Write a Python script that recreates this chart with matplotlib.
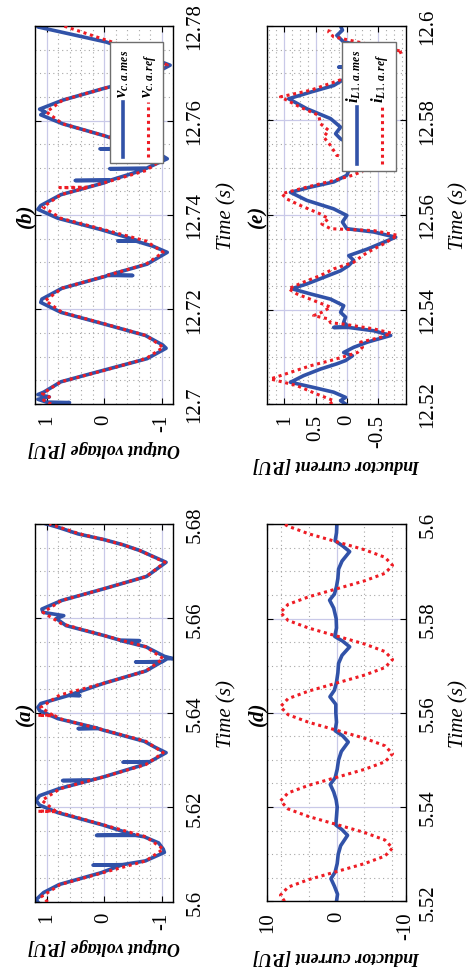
import matplotlib
matplotlib.use("Agg")
import matplotlib.pyplot as plt
from matplotlib.ticker import FixedLocator, MultipleLocator, FuncFormatter
from matplotlib.patches import Rectangle

plt.rcParams['font.family'] = ['Liberation Serif', 'DejaVu Serif']
plt.rcParams['axes.unicode_minus'] = False
plt.rcParams['mathtext.fontset'] = 'custom'
plt.rcParams['mathtext.rm'] = 'Liberation Serif'
plt.rcParams['mathtext.it'] = 'Liberation Serif:italic:bold'
plt.rcParams['mathtext.bf'] = 'Liberation Serif:bold'

# ---------------- data ----------------
# panel (a): output voltage, t = 5.60 .. 5.68 s
t_a_ref = [5.6000, 5.6012, 5.6037, 5.6062, 5.6087, 5.6112, 5.6138, 5.6163, 5.6189,
           5.6191, 5.6192, 5.6193, 5.6215, 5.6240, 5.6265, 5.6291, 5.6316, 5.6340,
           5.6364, 5.6388, 5.6394, 5.6395, 5.6396, 5.6412, 5.6438, 5.6463, 5.6489,
           5.6515, 5.6540, 5.6564, 5.6589, 5.6613, 5.6638, 5.6663, 5.6689, 5.6719,
           5.6744, 5.6756, 5.6767, 5.6779, 5.6793, 5.6800]
v_a_ref = [0.98, 1.08, 0.76, 0.02, -0.73, -1.03, -0.73, 0.00, 0.76,
           0.80, 1.15, 0.85, 1.08, 0.76, 0.00, -0.73, -1.03, -0.73,
           0.00, 0.77, 0.85, 1.15, 0.90, 1.10, 0.77, 0.00, -0.73,
           -1.03, -0.73, 0.00, 0.74, 1.06, 0.74, 0.00, -0.74, -1.06,
           -0.62, -0.33, 0.00, 0.42, 0.77, 0.95]
t_a_mes = [5.6000, 5.6005, 5.6012, 5.6020, 5.6037, 5.6062, 5.6078, 5.6078, 5.6079,
           5.6087, 5.6105, 5.6112, 5.6125, 5.6138, 5.6141, 5.6141, 5.6142, 5.6163,
           5.6189, 5.6205, 5.6215, 5.6225, 5.6240, 5.6257, 5.6257, 5.6258, 5.6265,
           5.6291, 5.6296, 5.6296, 5.6297, 5.6316, 5.6328, 5.6340, 5.6364, 5.6367,
           5.6367, 5.6368, 5.6388, 5.6405, 5.6412, 5.6420, 5.6437, 5.6437, 5.6438,
           5.6463, 5.6489, 5.6508, 5.6508, 5.6509, 5.6515, 5.6515, 5.6520, 5.6540,
           5.6553, 5.6553, 5.6554, 5.6564, 5.6585, 5.6600, 5.6606, 5.6613, 5.6620,
           5.6638, 5.6663, 5.6689, 5.6719, 5.6744, 5.6756, 5.6767, 5.6779, 5.6793,
           5.6800]
v_a_mes = [1.15, 1.18, 1.12, 1.05, 0.78, 0.05, -0.30, 0.19, -0.32,
           -0.72, -1.05, -1.03, -0.95, -0.70, -0.55, 0.13, -0.52, 0.02,
           0.80, 1.12, 1.18, 1.12, 0.78, 0.25, 0.72, 0.22, 0.00,
           -0.70, -0.78, -0.33, -0.80, -1.08, -0.88, -0.70, 0.02, 0.10,
           0.45, 0.12, 0.80, 1.12, 1.15, 1.10, 0.62, 0.42, 0.60,
           0.00, -0.73, -1.00, -0.55, -1.02, -1.10, -1.20, -1.05, -0.73,
           -0.30, -0.62, -0.28, 0.00, 0.66, 0.83, 0.70, 1.06, 1.08,
           0.74, 0.00, -0.74, -1.08, -0.62, -0.33, 0.00, 0.45, 0.80,
           1.00]

# panel (b): output voltage, t = 12.70 .. 12.78 s
t_b_ref = [12.7000, 12.7008, 12.7015, 12.7022, 12.7047, 12.7071, 12.7096, 12.7120,
           12.7145, 12.7170, 12.7194, 12.7219, 12.7245, 12.7270, 12.7296, 12.7321,
           12.7345, 12.7369, 12.7393, 12.7417, 12.7443, 12.7457, 12.7458, 12.7459,
           12.7468, 12.7494, 12.7519, 12.7544, 12.7568, 12.7593, 12.7618, 12.7643,
           12.7668, 12.7692, 12.7717, 12.7745, 12.7770, 12.7800]
v_b_ref = [0.92, 1.05, 0.95, 1.07, 0.75, 0.00, -0.73, -1.03,
           -0.73, 0.00, 0.73, 1.02, 0.73, 0.00, -0.73, -1.03,
           -0.73, 0.00, 0.75, 1.06, 0.75, 0.32, 0.77, 0.28,
           0.00, -0.73, -1.03, -0.73, 0.00, 0.72, 1.00, 0.72,
           0.00, -0.76, -1.10, -0.70, -0.04, 0.70]
t_b_mes = [12.7000, 12.7003, 12.7004, 12.7010, 12.7015, 12.7020, 12.7025, 12.7047,
           12.7071, 12.7096, 12.7118, 12.7125, 12.7145, 12.7170, 12.7194, 12.7215,
           12.7222, 12.7245, 12.7270, 12.7272, 12.7272, 12.7273, 12.7296, 12.7321,
           12.7334, 12.7345, 12.7345, 12.7346, 12.7369, 12.7393, 12.7412, 12.7420,
           12.7443, 12.7468, 12.7473, 12.7473, 12.7474, 12.7494, 12.7498, 12.7498,
           12.7499, 12.7519, 12.7530, 12.7540, 12.7540, 12.7541, 12.7568, 12.7593,
           12.7612, 12.7618, 12.7624, 12.7643, 12.7668, 12.7692, 12.7717, 12.7740,
           12.7766, 12.7790, 12.7798, 12.7800]
v_b_mes = [0.85, 0.60, 1.00, 1.15, 0.95, 1.15, 1.05, 0.75,
           0.02, -0.75, -1.08, -1.02, -0.72, 0.02, 0.75, 1.10,
           1.08, 0.73, -0.02, -0.06, -0.50, -0.08, -0.75, -1.10,
           -0.85, -0.55, -0.24, -0.58, 0.05, 0.80, 1.15, 1.10,
           0.75, 0.00, -0.10, 0.50, -0.12, -0.65, -0.72, -0.10,
           -0.74, -1.10, -0.95, -0.65, 0.07, -0.67, 0.00, 0.72,
           1.10, 1.02, 1.12, 0.72, 0.00, -0.76, -1.15, -0.65,
           -0.04, 0.85, 1.15, 1.10]

# panel (d): inductor current, t = 5.52 .. 5.60 s
t_d_ref = [5.5200, 5.5213, 5.5230, 5.5246, 5.5263, 5.5280, 5.5296, 5.5313, 5.5330,
           5.5346, 5.5363, 5.5380, 5.5396, 5.5413, 5.5430, 5.5446, 5.5463, 5.5480,
           5.5496, 5.5513, 5.5530, 5.5546, 5.5563, 5.5580, 5.5596, 5.5613, 5.5630,
           5.5646, 5.5663, 5.5680, 5.5696, 5.5713, 5.5730, 5.5746, 5.5763, 5.5780,
           5.5796, 5.5813, 5.5830, 5.5846, 5.5863, 5.5880, 5.5896, 5.5913, 5.5930,
           5.5946, 5.5963, 5.5980, 5.5996, 5.6000]
v_d_ref = [7.5, 8.1, 7.0, 4.05, 0.0, -4.05, -7.0, -8.1, -7.0,
           -4.05, 0.0, 4.05, 7.0, 8.1, 7.0, 4.05, 0.0, -4.05,
           -7.0, -8.1, -7.0, -4.05, 0.0, 4.05, 7.0, 8.1, 7.0,
           4.05, 0.0, -4.05, -7.0, -8.1, -7.0, -4.05, 0.0, 4.05,
           7.0, 8.1, 7.0, 4.05, 0.0, -4.05, -7.0, -8.1, -7.0,
           -4.05, 0.0, 4.05, 7.0, 7.5]
t_d_mes = [5.5200, 5.5215, 5.5232, 5.5248, 5.5262, 5.5280, 5.5300, 5.5318, 5.5340,
           5.5352, 5.5362, 5.5380, 5.5400, 5.5415, 5.5432, 5.5448, 5.5462, 5.5480,
           5.5500, 5.5518, 5.5538, 5.5551, 5.5562, 5.5580, 5.5600, 5.5618, 5.5634,
           5.5648, 5.5665, 5.5685, 5.5705, 5.5722, 5.5740, 5.5752, 5.5762, 5.5780,
           5.5800, 5.5822, 5.5839, 5.5852, 5.5868, 5.5885, 5.5905, 5.5922, 5.5942,
           5.5954, 5.5965, 5.5982, 5.6000]
v_d_mes = [0.0, -0.15, 0.3, 0.8, 0.2, -0.1, -0.25, -0.6, -1.6,
           -0.8, 0.1, 0.0, -0.1, 0.05, 0.4, 0.9, 0.2, -0.1,
           -0.3, -0.7, -1.7, -0.9, 0.2, 0.0, 0.1, 0.1, 0.95,
           0.3, 0.0, -0.2, -0.3, -0.8, -1.9, -0.9, 0.25, 0.0,
           0.05, 0.4, 1.0, 0.3, 0.0, -0.2, -0.3, -0.8, -1.9,
           -0.9, 0.2, 0.0, -0.05]

# panel (e): inductor current, t = 12.52 .. 12.60 s
t_e_ref = [12.5200, 12.5207, 12.5221, 12.5239, 12.5253, 12.5267, 12.5281, 12.5292,
           12.5302, 12.5309, 12.5320, 12.5331, 12.5341, 12.5350, 12.5359, 12.5369,
           12.5372, 12.5380, 12.5387, 12.5394, 12.5405, 12.5419, 12.5433, 12.5444,
           12.5458, 12.5472, 12.5486, 12.5500, 12.5511, 12.5521, 12.5539, 12.5557,
           12.5567, 12.5571, 12.5581, 12.5592, 12.5602, 12.5620, 12.5634, 12.5645,
           12.5659, 12.5673, 12.5684, 12.5691, 12.5719, 12.5726, 12.5747, 12.5765,
           12.5779, 12.5793, 12.5811, 12.5828, 12.5850, 12.5864, 12.5881, 12.5896,
           12.5924, 12.5946, 12.5959, 12.5977, 12.5987, 12.6000]
v_e_ref = [0.27, 0.21, 0.48, 0.80, 1.22, 0.90, 0.58, 0.26,
           0.00, -0.17, -0.25, -0.22, -0.54, -0.71, -0.43, 0.05,
           0.26, 0.29, 0.53, 0.40, 0.26, 0.53, 0.80, 0.93,
           0.69, 0.42, 0.21, -0.11, -0.22, -0.33, -0.59, -0.81,
           -0.43, 0.26, 0.40, 0.29, 0.42, 0.74, 0.96, 1.04,
           0.64, 0.21, -0.09, -0.22, -0.62, 0.16, 0.26, 0.37,
           0.29, 0.42, 0.45, 0.74, 1.06, 0.58, 0.21, -0.11,
           -0.49, -0.89, -0.43, 0.21, 0.29, 0.26]
t_e_mes = [12.5200, 12.5207, 12.5214, 12.5225, 12.5235, 12.5246, 12.5260, 12.5274,
           12.5285, 12.5292, 12.5302, 12.5309, 12.5320, 12.5331, 12.5345, 12.5355,
           12.5362, 12.5362, 12.5363, 12.5373, 12.5384, 12.5394, 12.5408, 12.5422,
           12.5433, 12.5444, 12.5454, 12.5468, 12.5482, 12.5493, 12.5504, 12.5514,
           12.5528, 12.5553, 12.5564, 12.5571, 12.5585, 12.5599, 12.5613, 12.5631,
           12.5648, 12.5659, 12.5670, 12.5684, 12.5700, 12.5719, 12.5740, 12.5761,
           12.5772, 12.5786, 12.5804, 12.5825, 12.5846, 12.5860, 12.5874, 12.5895,
           12.5913, 12.5913, 12.5914, 12.5930, 12.5948, 12.5966, 12.5980, 12.5991,
           12.6000]
v_e_mes = [0.02, 0.10, 0.02, 0.21, 0.53, 0.90, 0.69, 0.42,
           0.16, 0.02, -0.09, 0.05, -0.11, -0.33, -0.70, -0.43,
           -0.03, 0.21, -0.03, 0.05, 0.02, 0.10, 0.05, 0.26,
           0.58, 0.88, 0.64, 0.37, 0.10, -0.03, -0.11, -0.03,
           -0.33, -0.78, -0.43, 0.00, 0.07, 0.00, 0.21, 0.64,
           0.90, 0.58, 0.21, 0.00, -0.05, -0.65, -0.22, 0.10,
           0.18, 0.10, 0.26, 0.64, 0.93, 0.58, 0.21, -0.05,
           -0.20, 0.13, -0.22, -0.45, -0.75, 0.05, 0.16, 0.07,
           0.10]

# ticks / labels
a_time_ticks = [5.60, 5.62, 5.64, 5.66, 5.68]
b_time_ticks = [12.70, 12.72, 12.74, 12.76, 12.78]
d_time_ticks = [5.52, 5.54, 5.56, 5.58, 5.60]
e_time_ticks = [12.52, 12.54, 12.56, 12.58, 12.60]
volt_ticks = [1, 0, -1]
cur_d_ticks = [10, 0, -10]
cur_e_ticks = [1, 0.5, 0, -0.5]
panel_titles = ['(a)', '(b)', '(d)', '(e)']
volt_label = 'Output voltage [P.U]'
cur_label = 'Inductor current [P.U]'
time_label = 'Time (s)'
legend_b = [r'$v_{c.a.mes}$', r'$v_{c.a.ref}$']
legend_e = [r'$i_{L1.a.mes}$', r'$i_{L1.a.ref}$']

BLUE = '#3152a8'
RED = '#ee1c24'
W, H = 468, 978

fig = plt.figure(figsize=(W / 100, H / 100), dpi=100)


def px_axes(x0, y0, x1, y1):
    return fig.add_axes([x0 / W, 1 - y1 / H, (x1 - x0) / W, (y1 - y0) / H])


def fmt(v, pos):
    s = '%g' % round(v, 4)
    return '0' if s == '-0' else s


def style(ax, tlim, tticks, vlim, vticks, vminor, vlabel, title):
    ax.set_ylim(*tlim)
    ax.set_xlim(*vlim)
    ax.yaxis.set_major_locator(FixedLocator(tticks))
    ax.yaxis.set_minor_locator(MultipleLocator(0.005))
    ax.xaxis.set_major_locator(FixedLocator(vticks))
    ax.xaxis.set_minor_locator(MultipleLocator(vminor))
    ax.xaxis.set_major_formatter(FuncFormatter(fmt))
    ax.yaxis.set_major_formatter(FuncFormatter(fmt))
    ax.yaxis.tick_right()
    ax.yaxis.set_label_position('right')
    ax.tick_params(which='major', direction='in', length=4, width=0.8,
                   top=True, bottom=True, left=True, right=True, labelsize=15)
    ax.tick_params(which='minor', length=0)
    ax.tick_params(axis='x', labelrotation=90, pad=7)
    ax.tick_params(axis='y', labelrotation=90, pad=9)
    for lab in ax.get_yticklabels():
        lab.set_va('center')
    ax.grid(which='major', color='#c9c9e8', lw=0.9, ls='-')
    ax.grid(which='minor', color='#a6a6a6', lw=0.8, ls=(0, (1, 3)))
    ax.set_axisbelow(True)
    for sp in ax.spines.values():
        sp.set_linewidth(1.0)
        sp.set_color('black')
    ax.set_ylabel(time_label, fontsize=15, fontstyle='italic', labelpad=9)
    ax.set_xlabel(vlabel, fontsize=13, fontweight='bold', fontstyle='italic',
                  rotation=180, labelpad=6)
    ax.text(-0.072, 0.5, title, transform=ax.transAxes, rotation=90,
            ha='center', va='center', fontsize=15, fontweight='bold',
            fontstyle='italic')


def curves(ax, t_mes, v_mes, t_ref, v_ref):
    ax.plot(v_mes, t_mes, color=BLUE, lw=2.6, solid_joinstyle='round', zorder=2)
    ax.plot(v_ref, t_ref, color=RED, lw=2.2, ls=(0, (1, 1.2)),
            dash_capstyle='butt', zorder=3)


def legend(ax, box, xl, yl, xt, yt, labels):
    ax.add_patch(Rectangle((box[0], box[1]), box[2] - box[0], box[3] - box[1],
                           transform=ax.transAxes, facecolor='white',
                           edgecolor='#6e6e6e', lw=1.0, zorder=5, clip_on=False))
    ax.plot([xl[0], xl[0]], yl, transform=ax.transAxes, color=BLUE, lw=2.6,
            zorder=6, clip_on=False)
    ax.plot([xl[1], xl[1]], yl, transform=ax.transAxes, color=RED, lw=2.2,
            ls=(0, (1, 1.2)), dash_capstyle='butt', zorder=6, clip_on=False)
    for x, lab in zip(xt, labels):
        ax.text(x, yt, lab, transform=ax.transAxes, rotation=90,
                rotation_mode='anchor', ha='left', va='baseline',
                fontsize=12, zorder=7)


# (b) top-left
ax_b = px_axes(35, 27, 173, 405)
curves(ax_b, t_b_mes, v_b_mes, t_b_ref, v_b_ref)
style(ax_b, (12.70, 12.78), b_time_ticks, (1.2, -1.2), volt_ticks, 0.2,
      volt_label, panel_titles[1])
legend(ax_b, (0.543, 0.638, 0.93, 0.957), (0.64, 0.821), (0.653, 0.80),
       (0.664, 0.843), 0.812, legend_b)

# (e) top-right
ax_e = px_axes(267.3, 27, 405.7, 405)
curves(ax_e, t_e_mes, v_e_mes, t_e_ref, v_e_ref)
style(ax_e, (12.52, 12.60), e_time_ticks, (1.27, -0.94), cur_e_ticks, 0.125,
      cur_label, panel_titles[3])
legend(ax_e, (0.542, 0.617, 0.932, 0.957), (0.65, 0.831), (0.635, 0.786),
       (0.663, 0.843), 0.80, legend_e)

# (a) bottom-left
ax_a = px_axes(35, 525, 173, 903)
curves(ax_a, t_a_mes, v_a_mes, t_a_ref, v_a_ref)
style(ax_a, (5.60, 5.68), a_time_ticks, (1.2, -1.2), volt_ticks, 0.2,
      volt_label, panel_titles[0])

# (d) bottom-right
ax_d = px_axes(267.3, 525.3, 405.7, 902.3)
curves(ax_d, t_d_mes, v_d_mes, t_d_ref, v_d_ref)
style(ax_d, (5.52, 5.60), d_time_ticks, (10, -10), cur_d_ticks, 4,
      cur_label, panel_titles[2])

fig.savefig('out.png', dpi=100)
